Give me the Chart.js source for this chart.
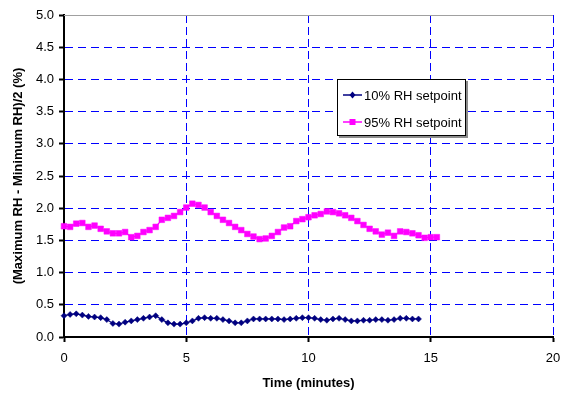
<!DOCTYPE html>
<html>
<head>
<meta charset="utf-8">
<script src="https://cdn.jsdelivr.net/npm/chart.js@4.4.1/dist/chart.umd.min.js"></script>
<style>
  html, body { margin: 0; padding: 0; background: #fff; }
  #wrap { width: 561px; height: 393px; }
</style>
</head>
<body>
<div id="wrap"><canvas id="rhChart" width="561" height="393"></canvas></div>
<script>
// time in minutes, one reading every 15 s
const timeMin = [
  0, 0.25, 0.5, 0.75, 1, 1.25, 1.5, 1.75, 2, 2.25,
  2.5, 2.75, 3, 3.25, 3.5, 3.75, 4, 4.25, 4.5, 4.75,
  5, 5.25, 5.5, 5.75, 6, 6.25, 6.5, 6.75, 7, 7.25,
  7.5, 7.75, 8, 8.25, 8.5, 8.75, 9, 9.25, 9.5, 9.75,
  10, 10.25, 10.5, 10.75, 11, 11.25, 11.5, 11.75, 12, 12.25,
  12.5, 12.75, 13, 13.25, 13.5, 13.75, 14, 14.25, 14.5, 14.75,
  15, 15.25
];

// (Max RH - Min RH)/2 in %
const rh10 = [
  0.33, 0.35, 0.36, 0.34, 0.32, 0.31, 0.30, 0.27, 0.21, 0.20,
  0.23, 0.25, 0.27, 0.29, 0.31, 0.33, 0.27, 0.22, 0.20, 0.20,
  0.22, 0.25, 0.29, 0.30, 0.29, 0.29, 0.27, 0.25, 0.22, 0.22,
  0.25, 0.28, 0.28, 0.28, 0.28, 0.28, 0.27, 0.28, 0.29, 0.30,
  0.30, 0.29, 0.27, 0.26, 0.28, 0.29, 0.27, 0.25, 0.25, 0.26,
  0.26, 0.27, 0.27, 0.26, 0.27, 0.29, 0.29, 0.28, 0.28
];
const rh95 = [
  1.72, 1.71, 1.76, 1.77, 1.71, 1.73, 1.68, 1.64, 1.61, 1.61,
  1.63, 1.55, 1.57, 1.63, 1.66, 1.71, 1.82, 1.85, 1.88, 1.94,
  2.01, 2.07, 2.05, 2.01, 1.94, 1.88, 1.82, 1.77, 1.71, 1.66,
  1.60, 1.56, 1.52, 1.53, 1.57, 1.63, 1.70, 1.72, 1.80, 1.83,
  1.86, 1.89, 1.91, 1.95, 1.94, 1.92, 1.89, 1.85, 1.80, 1.74,
  1.68, 1.64, 1.59, 1.62, 1.57, 1.64, 1.63, 1.61, 1.58, 1.54,
  1.55, 1.55
];

const seriesNames = ['10% RH setpoint', '95% RH setpoint'];
const xTickValues = [0, 5, 10, 15, 20];

const FONT = "'Liberation Sans', Arial, sans-serif";
const BLUE = '#000080';
const PINK = '#ff00ff';
const GRID = '#0000ff';

function toPoints(values) {
  return values.map((v, i) => ({ x: timeMin[i], y: v }));
}

// marker shapes for the legend box
function marker(ctx, style, x, y, color) {
  ctx.fillStyle = color;
  ctx.beginPath();
  if (style === 'rect') {
    ctx.rect(x - 3, y - 3, 6, 6);
  } else {
    ctx.moveTo(x, y - 3.5);
    ctx.lineTo(x + 3, y);
    ctx.lineTo(x, y + 3.5);
    ctx.lineTo(x - 3, y);
    ctx.closePath();
  }
  ctx.fill();
}

// Excel-style legend box inside the plot
const boxLegend = {
  id: 'boxLegend',
  afterDraw(chart) {
    const ctx = chart.ctx;
    const x = 337, y = 79, w = 129, h = 57;
    ctx.save();
    ctx.fillStyle = '#8c8c8c';
    ctx.fillRect(x + 2, y + 2, w, h);
    ctx.fillStyle = '#fff';
    ctx.fillRect(x, y, w, h);
    ctx.strokeStyle = '#000';
    ctx.lineWidth = 1;
    ctx.strokeRect(x + 0.5, y + 0.5, w - 1, h - 1);

    chart.data.datasets.forEach((ds, i) => {
      const ly = y + 16 + i * 27;
      ctx.strokeStyle = ds.borderColor;
      ctx.lineWidth = 1.5;
      ctx.beginPath();
      ctx.moveTo(x + 6, ly);
      ctx.lineTo(x + 25, ly);
      ctx.stroke();
      marker(ctx, ds.pointStyle, x + 15.5, ly, ds.borderColor);
      ctx.fillStyle = '#000';
      ctx.font = '13px ' + FONT;
      ctx.textBaseline = 'middle';
      ctx.textAlign = 'left';
      ctx.fillText(ds.label, x + 27, ly + 1);
    });
    ctx.restore();
  }
};

// grey frame line along the top of the plot area
const topFrame = {
  id: 'topFrame',
  beforeDatasetsDraw(chart) {
    const { ctx, chartArea } = chart;
    ctx.save();
    ctx.strokeStyle = '#a0a0a0';
    ctx.lineWidth = 1;
    ctx.beginPath();
    ctx.moveTo(chartArea.left, chartArea.top + 0.5);
    ctx.lineTo(chartArea.right, chartArea.top + 0.5);
    ctx.stroke();
    ctx.restore();
  }
};

new Chart(document.getElementById('rhChart'), {
  type: 'line',
  data: {
    datasets: [
      {
        label: seriesNames[0],
        data: toPoints(rh10),
        borderColor: BLUE,
        backgroundColor: BLUE,
        borderWidth: 1.2,
        pointStyle: 'rectRot',
        pointRadius: 3,
        pointBorderWidth: 0.5,
        tension: 0,
        clip: false
      },
      {
        label: seriesNames[1],
        data: toPoints(rh95),
        borderColor: PINK,
        backgroundColor: PINK,
        borderWidth: 1.2,
        pointStyle: 'rect',
        pointRadius: 4,
        pointBorderWidth: 0.5,
        tension: 0,
        clip: false
      }
    ]
  },
  options: {
    responsive: false,
    animation: false,
    layout: { padding: { top: 15, right: 8, bottom: 0, left: 0 } },
    plugins: {
      legend: { display: false },
      tooltip: { enabled: false }
    },
    scales: {
      x: {
        type: 'linear',
        min: 0,
        max: 20,
        afterBuildTicks: (scale) => {
          scale.ticks = xTickValues.map(v => ({ value: v }));
        },
        afterFit: (scale) => {
          scale.height = 56;
          scale.paddingLeft = 0;
          scale.paddingRight = 0;
        },
        ticks: {
          color: '#000',
          font: { family: FONT, size: 13 },
          padding: 9,
          maxRotation: 0
        },
        grid: {
          color: GRID,
          lineWidth: 1,
          tickColor: '#000',
          tickLength: 5,
          tickWidth: 2
        },
        border: { color: '#000', width: 2, dash: [8, 4] },
        title: {
          display: true,
          text: 'Time (minutes)',
          color: '#000',
          font: { family: FONT, size: 13, weight: 'bold' },
          padding: { top: 0, bottom: 2 }
        }
      },
      y: {
        type: 'linear',
        min: 0,
        max: 5,
        afterFit: (scale) => { scale.width = 64; },
        ticks: {
          stepSize: 0.5,
          color: '#000',
          font: { family: FONT, size: 13 },
          padding: 5,
          callback: (v) => v.toFixed(1)
        },
        grid: {
          color: GRID,
          lineWidth: 1,
          tickColor: '#000',
          tickLength: 5,
          tickWidth: 2
        },
        border: { color: '#000', width: 2, dash: [8, 5] },
        title: {
          display: true,
          text: '(Maximum RH - Minimum RH)/2 (%)',
          color: '#000',
          font: { family: FONT, size: 13, weight: 'bold' },
          padding: { top: 11, bottom: 0 }
        }
      }
    }
  },
  plugins: [topFrame, boxLegend]
});
</script>
</body>
</html>
